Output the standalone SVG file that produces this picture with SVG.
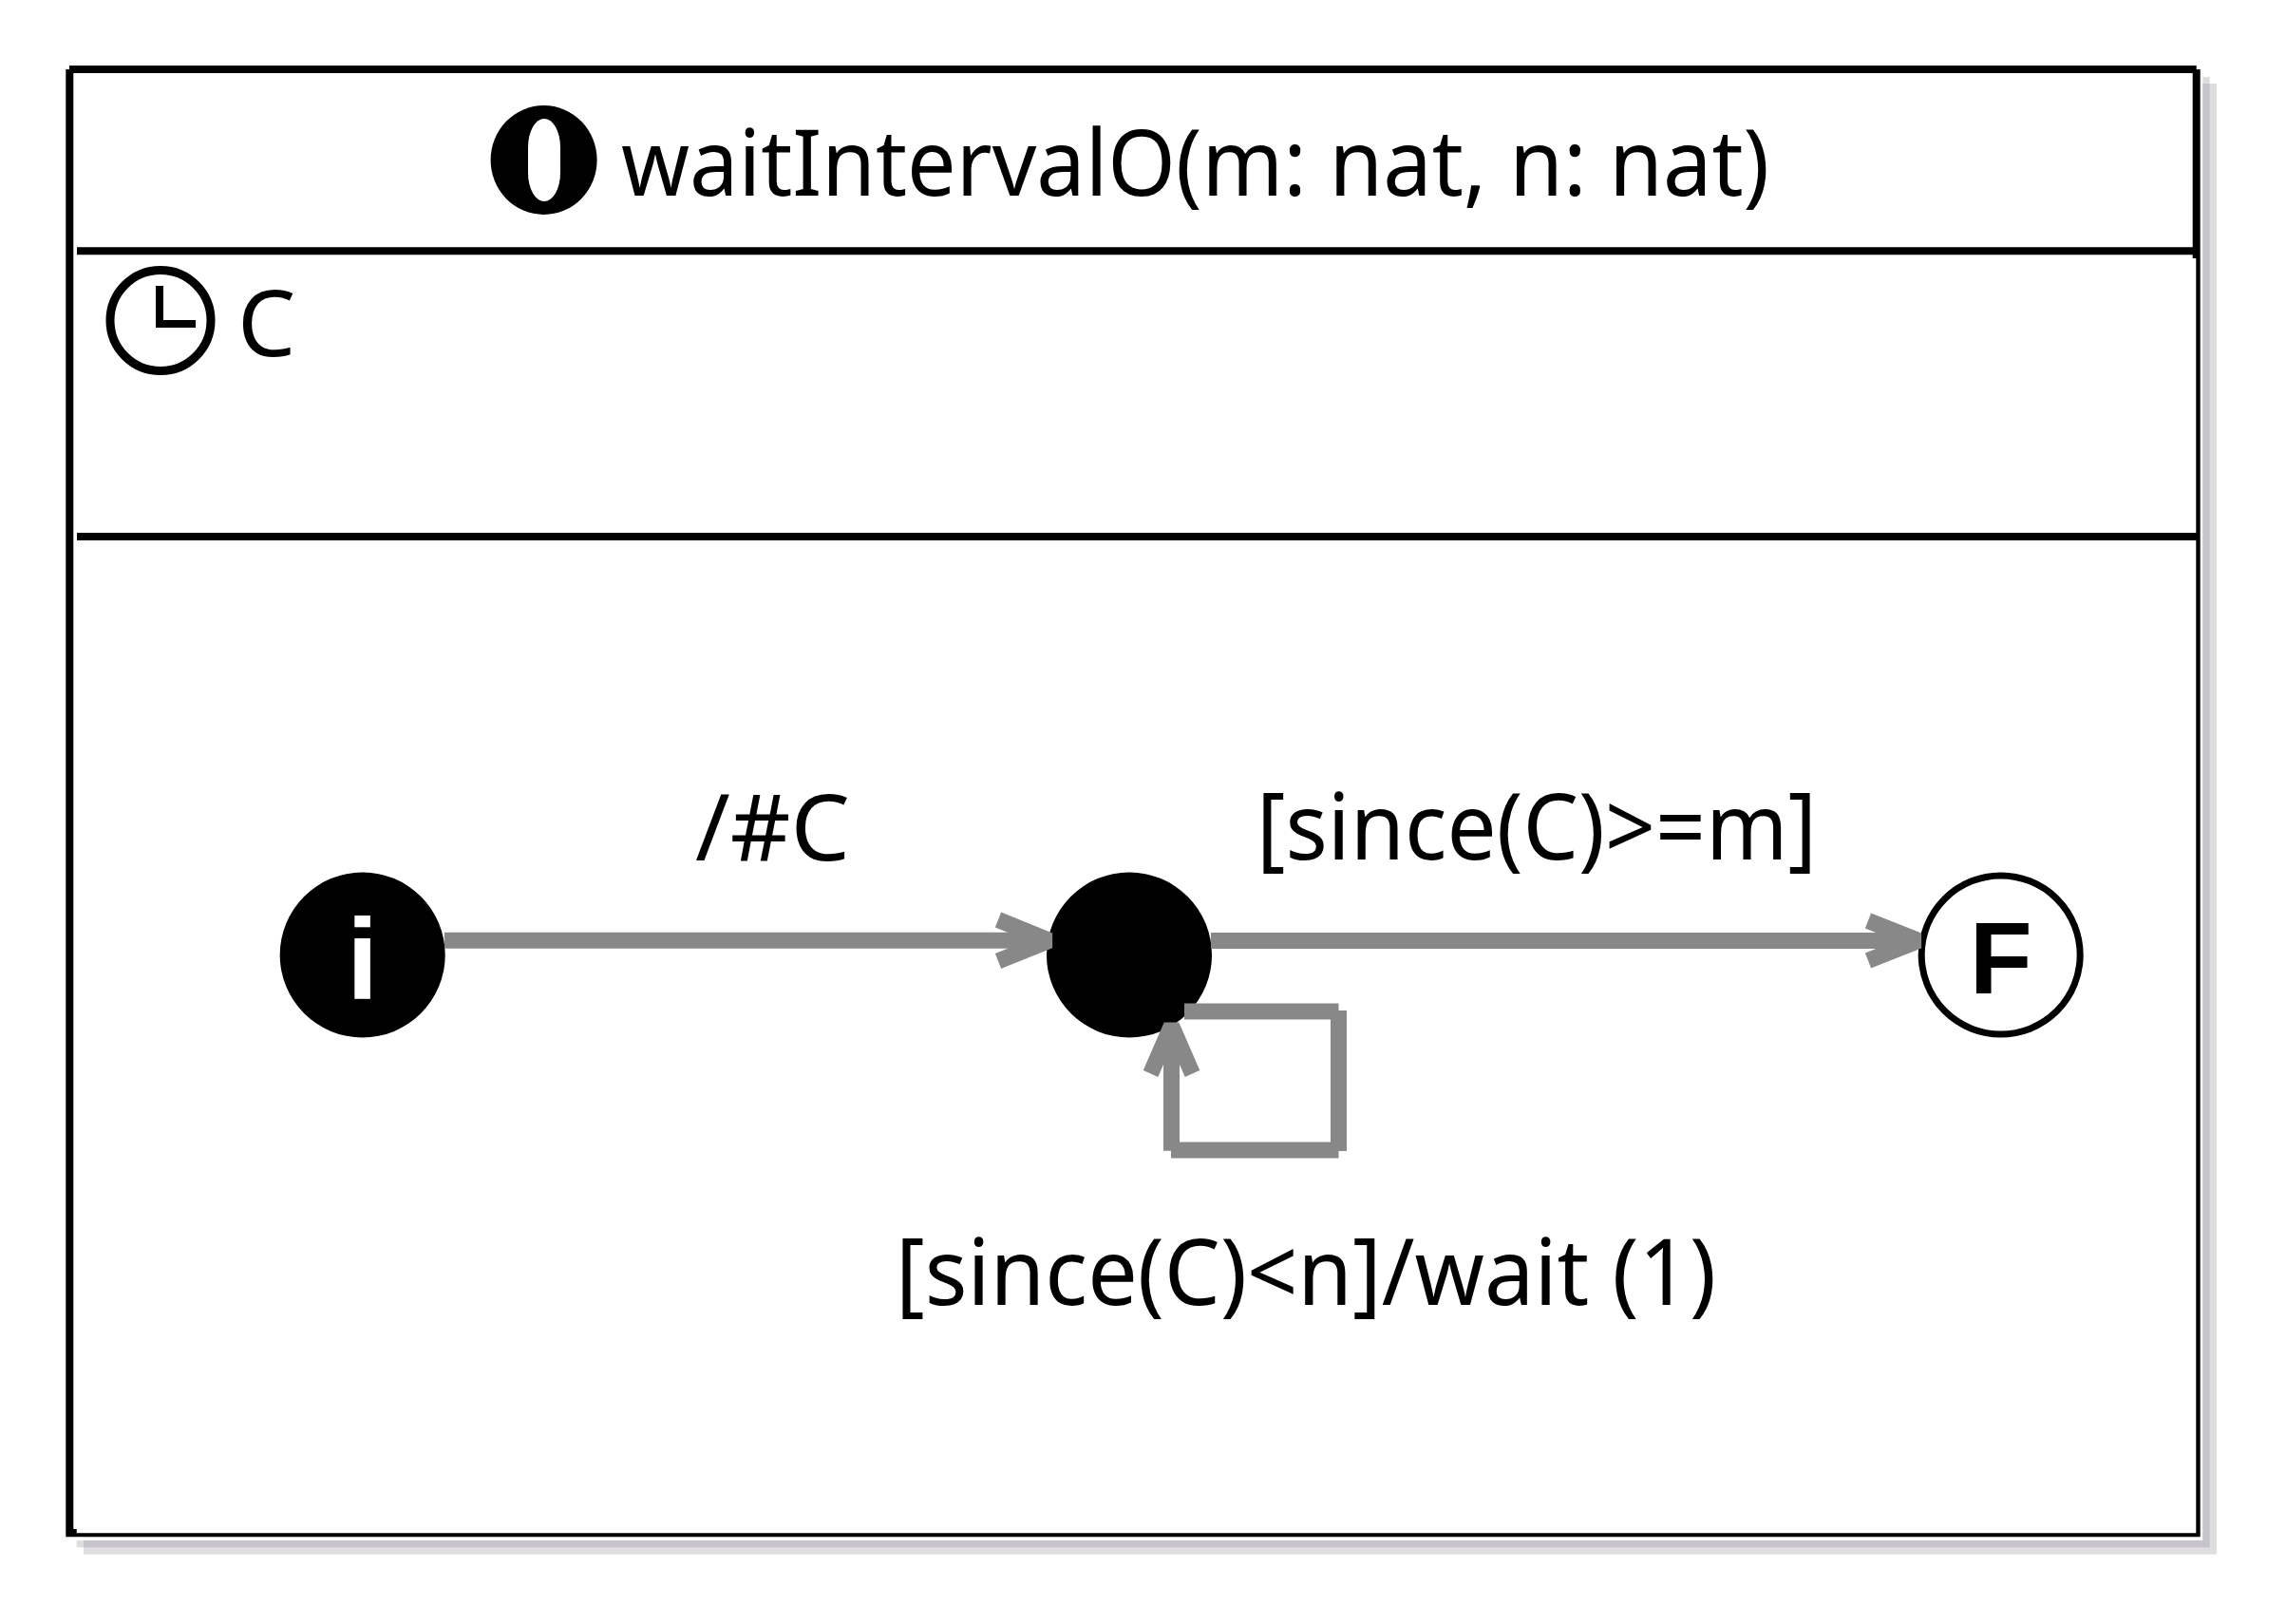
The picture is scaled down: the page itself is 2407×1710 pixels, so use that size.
<svg xmlns="http://www.w3.org/2000/svg" width="2407" height="1710" viewBox="0 0 2407 1710">
<style>
.t{font-family:"Noto Sans","Open Sans","DejaVu Sans",sans-serif;font-size:97px;fill:#000}
.g{stroke:#888;stroke-width:17;fill:none;stroke-linejoin:bevel}
.b{font-family:"Liberation Sans",sans-serif;font-weight:700;text-anchor:middle}
</style>
<rect width="2407" height="1710" fill="#fff"/>
<g id="frame">
<path d="M2319.3 81H2326.7V88H2334V1636.7H88V1629.3H80.7V1622H2319.3Z" fill="#dedde0"/>
<path d="M2319.3 88H2326.7V1629.3H88V1622H2319.3Z" fill="#c6c4ca"/>
<path d="M69.3 77V1618.3H2316.7V268.3H2312.3V1614.3H80.7V1610H77.3V77H2308.7V260.3H81V268.3H2308.7V272H2312.3V268.3H2316.7V73H2312.7V69H73V73H69.3Z"/>
<rect x="81" y="561" width="2233" height="8"/>
</g>
<g id="title">
<ellipse cx="572.6" cy="168.5" rx="56" ry="57.5"/>
<rect x="556" y="125" width="34" height="87" rx="17" ry="30" fill="#fff"/>
<text class="t" x="654" y="206" textLength="1209" lengthAdjust="spacingAndGlyphs">waitIntervalO(m: nat, n: nat)</text>
</g>
<g id="clock">
<circle cx="169" cy="337.5" r="53" fill="none" stroke="#000" stroke-width="9"/>
<path d="M168 301V341H206" fill="none" stroke="#000" stroke-width="8"/>
<text class="t" x="250" y="375">C</text>
</g>
<g id="node-init">
<circle cx="381.7" cy="1005.5" r="87"/>
<text class="b" x="381.7" y="1052" font-size="120" fill="#fff">i</text>
</g>
<g id="node-mid">
<circle cx="1189" cy="1005.5" r="87"/>
</g>
<g id="node-final">
<circle cx="2106.7" cy="1005.5" r="83.5" fill="#fff" stroke="#000" stroke-width="7"/>
<text class="b" x="2106.7" y="1046" font-size="108">F</text>
</g>
<g id="connectors">
<g class="g">
<line x1="468" y1="990.3" x2="1098" y2="990.3"/>
<path d="M1051 968.5L1105 990.3L1051 1012"/>
<line x1="1275" y1="990.5" x2="2012" y2="990.5"/>
<path d="M1967 969.5L2020 990.5L1967 1011.5"/>
<line x1="1247" y1="1065" x2="1409.5" y2="1065"/>
<line x1="1409.5" y1="1064" x2="1409.5" y2="1212"/>
<line x1="1409.5" y1="1211" x2="1233" y2="1211"/>
<line x1="1233.5" y1="1211.7" x2="1233.5" y2="1088"/>
<path d="M1211.5 1130.5L1233.5 1080L1255.5 1130.5"/>
</g>
</g>
<g id="labels">
<text class="t" x="732" y="906" textLength="163" lengthAdjust="spacingAndGlyphs">/#C</text>
<text class="t" x="1323" y="905" textLength="590" lengthAdjust="spacingAndGlyphs">[since(C)&gt;=m]</text>
<text class="t" x="943" y="1374" textLength="864" lengthAdjust="spacingAndGlyphs">[since(C)&lt;n]/wait (1)</text>
</g>
</svg>
